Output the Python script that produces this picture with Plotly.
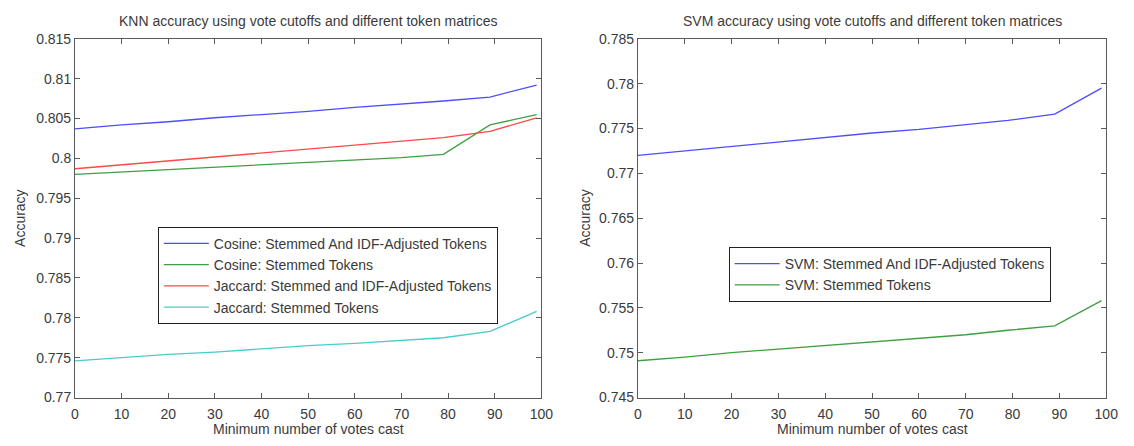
import plotly.graph_objects as go

# ---- data ----
votes = [0, 10, 20, 30, 40, 50, 60, 70, 79, 89, 99]

knn_cos_idf = [0.8037, 0.8042, 0.8046, 0.8051, 0.8055, 0.8059, 0.8064, 0.8068, 0.8072, 0.8077, 0.8092]
knn_cos_stem = [0.7980, 0.7983, 0.7986, 0.7989, 0.7992, 0.7995, 0.7998, 0.8001, 0.8005, 0.8042, 0.8055]
knn_jac_idf = [0.7987, 0.7992, 0.7997, 0.8002, 0.8007, 0.8012, 0.8017, 0.8022, 0.8026, 0.8034, 0.8051]
knn_jac_stem = [0.7746, 0.7750, 0.7754, 0.7757, 0.7761, 0.7765, 0.7768, 0.7772, 0.7775, 0.7783, 0.7808]

svm_idf = [0.7720, 0.7725, 0.7730, 0.7735, 0.7740, 0.7745, 0.7749, 0.7754, 0.7759, 0.7766, 0.7795]
svm_stem = [0.7491, 0.7495, 0.7500, 0.7504, 0.7508, 0.7512, 0.7516, 0.7520, 0.7525, 0.7530, 0.7558]

x_ticks = [0, 10, 20, 30, 40, 50, 60, 70, 80, 90, 100]
x_ticktext = ["0", "10", "20", "30", "40", "50", "60", "70", "80", "90", "100"]
knn_yticks = [0.77, 0.775, 0.78, 0.785, 0.79, 0.795, 0.8, 0.805, 0.81, 0.815]
knn_yticktext = ["0.77", "0.775", "0.78", "0.785", "0.79", "0.795", "0.8", "0.805", "0.81", "0.815"]
svm_yticks = [0.745, 0.75, 0.755, 0.76, 0.765, 0.77, 0.775, 0.78, 0.785]
svm_yticktext = ["0.745", "0.75", "0.755", "0.76", "0.765", "0.77", "0.775", "0.78", "0.785"]

knn_title = "KNN accuracy using vote cutoffs and different token matrices"
svm_title = "SVM accuracy using vote cutoffs and different token matrices"
x_label = "Minimum number of votes cast"
y_label = "Accuracy"

BLUE = "#4d4dff"
GREEN = "#3f9f3f"
RED = "#ff4848"
CYAN = "#48cccc"

W, H = 1134, 446
FONT = "Liberation Sans, Arial, sans-serif"
TXT = "#3a3a3a"
AX = "#5a5a5a"

def px(x):
    return x / W

def py(y):
    return 1 - y / H

fig = go.Figure()

def add(x, y, name, color, xa, ya, legend):
    fig.add_trace(go.Scatter(x=x, y=y, name=name, mode="lines",
                             line=dict(color=color, width=1.3),
                             xaxis=xa, yaxis=ya, legend=legend))

add(votes, knn_cos_idf, "Cosine: Stemmed And IDF-Adjusted Tokens", BLUE, "x", "y", "legend")
add(votes, knn_cos_stem, "Cosine: Stemmed Tokens", GREEN, "x", "y", "legend")
add(votes, knn_jac_idf, "Jaccard: Stemmed and IDF-Adjusted Tokens", RED, "x", "y", "legend")
add(votes, knn_jac_stem, "Jaccard: Stemmed Tokens", CYAN, "x", "y", "legend")
add(votes, svm_idf, "SVM: Stemmed And IDF-Adjusted Tokens", BLUE, "x2", "y2", "legend2")
add(votes, svm_stem, "SVM: Stemmed Tokens", GREEN, "x2", "y2", "legend2")

axis_common = dict(showline=True, linecolor=AX, linewidth=1, mirror="ticks",
                   ticks="inside", ticklen=5, tickcolor=AX, showgrid=False,
                   zeroline=False, tickfont=dict(family=FONT, size=14, color=TXT))

ydom = [py(404), py(32)]

fig.update_layout(
    width=W, height=H,
    margin=dict(l=0, r=0, t=0, b=0),
    paper_bgcolor="white", plot_bgcolor="white",
    font=dict(family=FONT, size=14, color=TXT),
    xaxis=dict(domain=[px(72), px(545)], range=[0, 100], tickvals=x_ticks,
               ticktext=x_ticktext, anchor="y", ticklabelstandoff=4, **axis_common),
    yaxis=dict(domain=ydom, range=[0.77, 0.815], tickvals=knn_yticks,
               ticktext=knn_yticktext, anchor="x", **axis_common),
    xaxis2=dict(domain=[px(643), px(1118)], range=[0, 100], tickvals=x_ticks,
                ticktext=x_ticktext, anchor="y2", ticklabelstandoff=4, **axis_common),
    yaxis2=dict(domain=ydom, range=[0.745, 0.785], tickvals=svm_yticks,
                ticktext=svm_yticktext, anchor="x2", **axis_common),
    legend=dict(x=px(156), y=py(227), xanchor="left", yanchor="top",
                bgcolor="white", bordercolor="#222", borderwidth=1,
                font=dict(family=FONT, size=14, color=TXT), itemwidth=45,
                tracegroupgap=0),
    legend2=dict(x=px(735), y=py(248), xanchor="left", yanchor="top",
                 bgcolor="white", bordercolor="#222", borderwidth=1,
                 font=dict(family=FONT, size=14, color=TXT), itemwidth=45,
                 tracegroupgap=0),
    showlegend=True,
)

ann = []
ann.append(dict(text=knn_title, x=px((72 + 545) / 2), y=py(13), xref="paper", yref="paper",
                xanchor="center", yanchor="middle", showarrow=False,
                font=dict(family=FONT, size=14, color=TXT)))
ann.append(dict(text=svm_title, x=px((643 + 1118) / 2), y=py(13), xref="paper", yref="paper",
                xanchor="center", yanchor="middle", showarrow=False,
                font=dict(family=FONT, size=14, color=TXT)))
for cx in [(72 + 545) / 2, (643 + 1118) / 2]:
    ann.append(dict(text=x_label, x=px(cx), y=0, xref="paper", yref="paper",
                    xanchor="center", yanchor="bottom", showarrow=False, borderpad=0,
                    font=dict(family=FONT, size=14, color=TXT)))
for cx in [16, 589]:
    ann.append(dict(text=y_label, x=px(cx), y=py(218), xref="paper", yref="paper",
                    xanchor="center", yanchor="middle", showarrow=False, textangle=-90,
                    font=dict(family=FONT, size=14, color=TXT)))
fig.update_layout(annotations=ann)

fig.write_html("out.html")
